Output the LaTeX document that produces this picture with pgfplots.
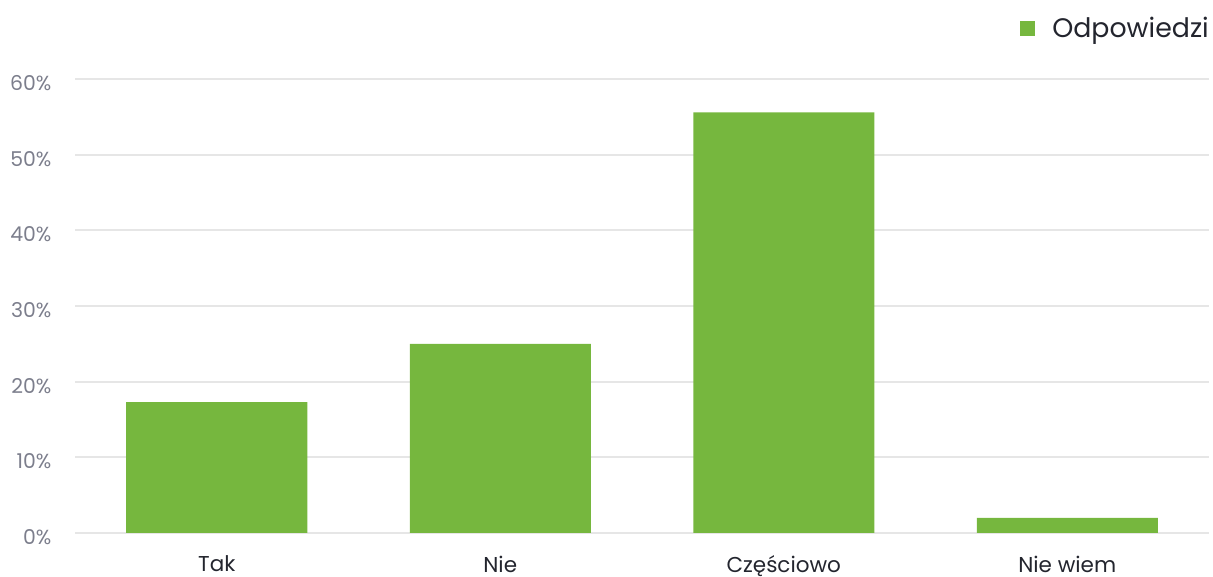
\documentclass[border=0pt]{standalone}
\usepackage{fontspec}
\setmainfont{Poppins}
\usepackage{pgfplots}
\pgfplotsset{compat=1.18}
\definecolor{bargreen}{HTML}{76B73E}
\definecolor{gridgray}{HTML}{E6E6E6}
\definecolor{ticktext}{HTML}{7C7E8C}
\definecolor{darktext}{HTML}{23252E}
\begin{document}
\begin{tikzpicture}
\begin{axis}[
  at={(0,0)}, anchor=south west,
  scale only axis,
  width=1134bp, height=454bp,
  xmin=-0.5, xmax=3.5,
  ymin=0, ymax=60,
  ybar, bar width=181bp,
  axis line style={draw=none},
  major tick length=0pt,
  xtick=data,
  xticklabels={Tak, Nie, Częściowo, Nie wiem},
  x tick label style={font=\fontsize{21.5bp}{25bp}\selectfont, text=darktext, inner sep=0pt, yshift=-22.5bp},
  ytick={0,10,20,30,40,50,60},
  yticklabel={\pgfmathprintnumber{\tick}\%},
  y tick label style={font=\fontsize{20.4bp}{24bp}\selectfont, text=ticktext, xshift=-20bp, yshift=-4bp},
  /pgf/number format/assume math mode=true,
  ymajorgrids,
  grid style={draw=gridgray, line width=2bp},
  axis on top=false,
  legend style={at={(1,1)}, anchor=east, yshift=51bp, draw=none, fill=none, inner sep=0pt,
    font=\fontsize{26.8bp}{30bp}\selectfont, text=darktext,
    nodes={inner sep=0pt}},
  legend image code/.code={\fill[bargreen] (0bp,-7.5bp) rectangle (15bp,7.5bp);},
  legend cell align=left,
]
\addplot[fill=bargreen, draw=none, bar shift=0pt] coordinates {(0,17.3) (1,25) (2,55.6) (3,2)};
\addlegendentry{\hspace{17bp}Odpowiedzi}
\end{axis}
\pgfresetboundingbox
\path[use as bounding box] (-75bp,-44bp) rectangle (1138bp,533bp);
\end{tikzpicture}
\end{document}
